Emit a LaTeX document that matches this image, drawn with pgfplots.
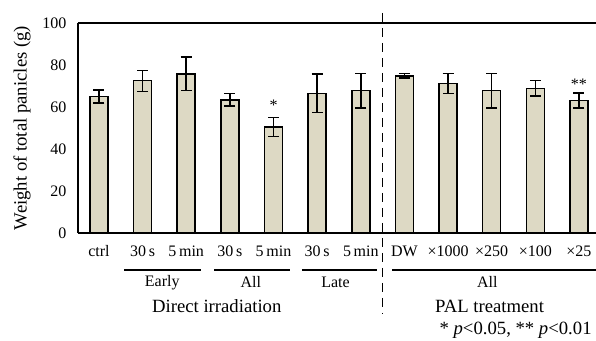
\documentclass[border=0pt]{standalone}
\usepackage{pgfplots}
\pgfplotsset{compat=1.18}
\usepackage{fontspec}
\setmainfont{Liberation Serif}
\newcommand\fs{\fontsize{16bp}{19bp}\selectfont}
\newcommand\fl{\fontsize{18.7bp}{22bp}\selectfont}
\definecolor{barfill}{HTML}{DDD9C4}
\begin{document}
\begin{tikzpicture}
\begin{axis}[
  at={(0,0)}, anchor=south west,
  scale only axis, width=518bp, height=210bp,
  xmin=-0.48, xmax=11.39, ymin=0, ymax=100,
  axis x line*=box, axis y line*=left,
  axis line style={line width=1.4pt},
  ytick={0,20,40,60,80,100},
  xtick={0,1,2,3,4,5,6,7,8,9,10,11},
  xticklabels={ctrl,30\,s,5\,min,30\,s,5\,min,30\,s,5\,min,DW,×1000,×250,×100,×25},
  major tick length=0pt,
  /pgf/number format/assume math mode=true,
  tick label style={font=\fs},
  xticklabel style={yshift=-8.5bp, text height=11bp, text depth=3bp},
  yticklabel style={xshift=-8bp},
  ylabel={Weight of total panicles (g)},
  ylabel style={font=\fl, at={(axis description cs:-0.108,0.5)}, anchor=center},
  clip=false,
  ybar, bar width=18bp,
]
\addplot[fill=barfill, draw=black, line width=1.5pt,
  error bars/.cd, y dir=both, y explicit,
  error mark=-, error mark options={line width=1.5pt, mark size=5.5bp, rotate=90, black},
  error bar style={line width=1.5pt, black}]
coordinates {
(0,65) +- (0,3)
(1,72.5) +- (0,5)
(2,75.8) +- (0,8)
(3,63.4) +- (0,3)
(4,50.5) +- (0,4.5)
(5,66.5) +- (0,9.2)
(6,67.8) +- (0,8.2)
(7,74.8) +- (0,1.1)
(8,71.2) +- (0,4.7)
(9,67.8) +- (0,8.2)
(10,68.9) +- (0,3.6)
(11,63.1) +- (0,3.6)
};
% significance marks
\node[font=\fs] at (axis cs:4,60.6) {*};
\node[font=\fs] at (axis cs:11,70.6) {**};
% dashed separator
\draw[line width=1.4pt, dash pattern=on 9bp off 6bp] (axis cs:6.5,104.8) -- (axis cs:6.5,-38.5);
% group lines
\draw[line width=1.4pt] (axis cs:0.58,-17.6) -- (axis cs:2.33,-17.6);
\draw[line width=1.4pt] (axis cs:2.64,-17.6) -- (axis cs:4.38,-17.6);
\draw[line width=1.4pt] (axis cs:4.65,-17.6) -- (axis cs:6.38,-17.6);
\draw[line width=1.4pt] (axis cs:6.72,-17.6) -- (axis cs:11.4,-17.6);
% group labels
\node[font=\fs] at (axis cs:1.45,-23.5) {Early};
\node[font=\fs] at (axis cs:3.48,-23.5) {All};
\node[font=\fs] at (axis cs:5.42,-23.5) {Late};
\node[font=\fs] at (axis cs:8.9,-23.5) {All};
\node[font=\fl] at (axis cs:2.7,-35) {Direct irradiation};
\node[font=\fl] at (axis cs:8.95,-35) {PAL treatment};
\node[font=\fl, anchor=east] at (axis cs:11.37,-46.5) {* \textit{p}<0.05, ** \textit{p}<0.01};
\end{axis}
\pgfresetboundingbox
\path[use as bounding box] (-78bp,-108bp) rectangle (518bp,233bp);
\end{tikzpicture}
\end{document}
